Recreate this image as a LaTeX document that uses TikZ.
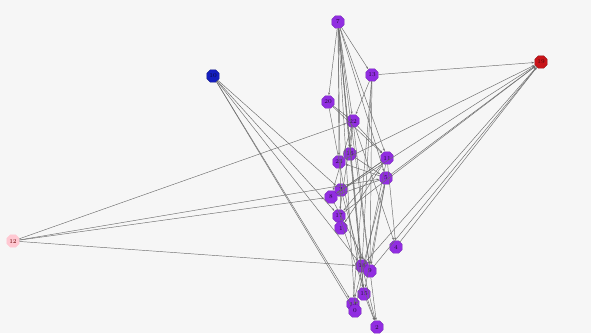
\documentclass[tikz,border=0pt]{standalone}
\usetikzlibrary{shapes.geometric,arrows.meta}
\definecolor{vpurple}{RGB}{145,45,225}
\definecolor{vblue}{RGB}{20,30,190}
\definecolor{vred}{RGB}{200,20,25}
\definecolor{vpink}{RGB}{255,200,210}
\definecolor{bg}{RGB}{246,246,246}
\tikzset{
  vtx/.style={regular polygon,regular polygon sides=8,minimum size=13.5pt,inner sep=0pt,fill=vpurple,draw=vpurple!80!black,line width=0.3pt,font=\fontsize{6}{6}\selectfont,text=black!75!vpurple},
  vsrc/.style={vtx,fill=vblue,draw=vblue!70!black,text=black!70!vblue},
  vsink/.style={vtx,fill=vred,draw=vred!70!black,text=black!60!vred},
  vpk/.style={vtx,fill=vpink,draw=vpink,text=black!60!red},
  edge/.style={draw=gray!85!black,line width=0.45pt,-{Stealth[length=2.6pt,width=2pt]},shorten >=0.5pt}
}
\begin{document}
\begin{tikzpicture}[x=1pt,y=-1pt]
\fill[bg] (0,0) rectangle (591,333);
\useasboundingbox (0,0) rectangle (591,333);
% nodes
\node[vtx] (n7) at (338,22) {7};
\node[vtx] (n13) at (372,75) {13};
\node[vtx] (n20) at (328,102) {20};
\node[vtx] (n22) at (353,121) {22};
\node[vtx] (n16) at (350,154) {16};
\node[vtx] (n11) at (387,158) {11};
\node[vtx] (n23) at (339,162) {23};
\node[vtx] (n5) at (386,178) {5};
\node[vtx] (n3) at (341,190) {3};
\node[vtx] (n8) at (331,197) {8};
\node[vtx] (n17) at (339,216) {17};
\node[vtx] (n1) at (341,228) {1};
\node[vtx] (n4) at (396,247) {4};
\node[vtx] (n18) at (362,266) {18};
\node[vtx] (n9) at (370,271) {9};
\node[vtx] (n15) at (364,294) {15};
\node[vtx] (n14) at (353,304) {14};
\node[vtx] (n0) at (355,311) {0};
\node[vtx] (n2) at (377,327) {2};
\node[vsrc] (n10) at (213,76) {10};
\node[vsink] (n19) at (541,62) {19};
\node[vpk] (n12) at (13,241) {12};
% edges
\begin{scope}[on background layer/.style={}]
\foreach \a/\b in {10/17,10/0,10/18,10/3,10/14,
  13/19,8/19,5/19,17/19,18/19,9/19,23/19,4/19,
  12/22,12/8,12/5,12/18,
  7/13,7/22,7/16,7/11,7/5,7/1,7/18,7/9,7/15,7/0,7/20,7/23,
  13/22,13/18,13/9,13/14,
  20/22,20/11,20/15,
  22/16,22/11,22/8,22/9,22/4,22/17,
  16/5,16/15,
  11/3,11/8,11/4,11/17,11/0,11/1,
  5/8,5/14,5/15,5/9,5/23,
  3/18,8/9,17/2,
  18/2,9/2,15/2}
  \draw[edge] (n\a) -- (n\b);
\end{scope}
\end{tikzpicture}
\end{document}
